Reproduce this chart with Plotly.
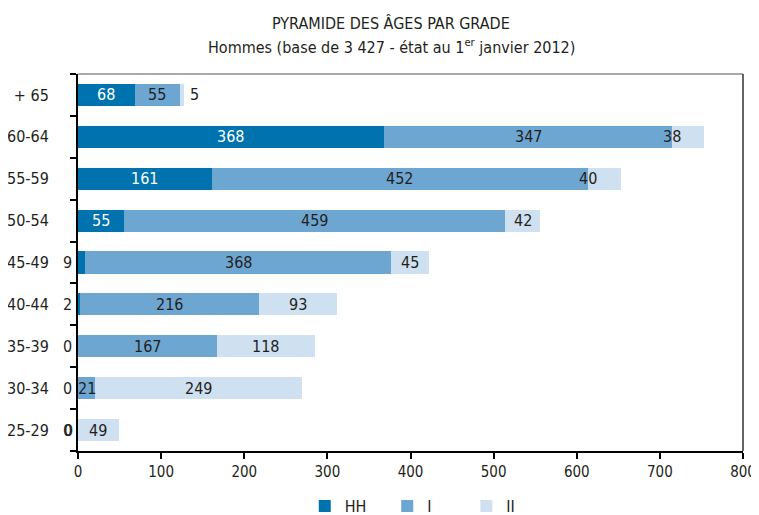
import plotly.graph_objects as go

categories = ["25-29", "30-34", "35-39", "40-44", "45-49", "50-54", "55-59", "60-64", "+ 65"]
hh = [0, 0, 0, 2, 9, 55, 161, 368, 68]
grade_i = [0, 21, 167, 216, 368, 459, 452, 347, 55]
grade_ii = [49, 249, 118, 93, 45, 42, 40, 38, 5]
x_ticks = [0, 100, 200, 300, 400, 500, 600, 700, 800]

C_HH = "#0072AE"
C_I = "#6EA6D2"
C_II = "#CFE0F0"
TXT = "#231F20"
FONT = "DejaVu Sans Condensed, DejaVu Sans, sans-serif"

fig = go.Figure()
for name, vals, col, lg in [("HH", hh, C_HH, "legend"), ("I", grade_i, C_I, "legend2"),
                            ("II", grade_ii, C_II, "legend3")]:
    fig.add_trace(go.Bar(y=categories, x=vals, name=name, orientation="h", legend=lg,
                         showlegend=True,
                         marker=dict(color=col, line=dict(width=0)), width=0.53,
                         hoverinfo="x+name"))

ann = []
for k, cat in enumerate(categories):
    a, b, c = hh[k], grade_i[k], grade_ii[k]
    # HH
    if a >= 30:
        ann.append(dict(x=a / 2, y=cat, text=str(a), font=dict(color="white")))
    else:
        ann.append(dict(x=0, y=cat, text=str(a), xanchor="right", xshift=-4))
    # I
    if b == 0:
        ann.append(dict(x=0, y=cat, text=str(b), xanchor="right", xshift=-3))
    else:
        ann.append(dict(x=a + b / 2, y=cat, text=str(b)))
    # II
    if c >= 41:
        ann.append(dict(x=a + b + c / 2, y=cat, text=str(c)))
    elif c >= 10:
        ann.append(dict(x=a + b, y=cat, text=str(c)))
    else:
        ann.append(dict(x=a + b + c, y=cat, text=str(c), xanchor="left", xshift=4))

for d in ann:
    d.setdefault("xanchor", "center")
    f = dict(family=FONT, size=16, color=TXT)
    f.update(d.get("font", {}))
    d["font"] = f
    d.update(showarrow=False, xref="x", yref="y", yanchor="middle")

# title lines
ann.append(dict(text="PYRAMIDE DES ÂGES PAR GRADE", x=0.471, y=1.135, xref="paper", yref="paper",
                xanchor="center", yanchor="middle", showarrow=False,
                font=dict(family=FONT, size=16, color=TXT)))
ann.append(dict(text="Hommes (base de 3 427 - état au 1<sup>er</sup> janvier 2012)", x=0.471, y=1.074,
                xref="paper", yref="paper", xanchor="center", yanchor="middle", showarrow=False,
                font=dict(family=FONT, size=16, color=TXT)))
fig.update_layout(annotations=ann)

leg_common = dict(orientation="h", xanchor="left", xref="paper", y=-0.146, yanchor="middle",
                  yref="paper", font=dict(size=16), itemwidth=30, bgcolor="rgba(0,0,0,0)",
                  visible=True)

fig.update_layout(
    width=751, height=507,
    showlegend=True,
    margin=dict(l=70, r=16, t=66, b=64, autoexpand=False),
    barmode="stack",
    plot_bgcolor="white", paper_bgcolor="white",
    font=dict(family=FONT, size=16, color=TXT),
    xaxis=dict(range=[0, 800], tickvals=x_ticks, showgrid=False, zeroline=False,
               showline=True, linecolor="black", linewidth=2,
               ticks="outside", ticklen=6, tickwidth=2, tickcolor="black",
               tickfont=dict(size=15), automargin=False),
    yaxis=dict(categoryorder="array", categoryarray=categories,
               showgrid=False, zeroline=False,
               showline=True, linecolor="black", linewidth=2,
               ticks="outside", tickson="boundaries", ticklen=6, tickwidth=2, tickcolor="black",
               ticklabelstandoff=24, tickfont=dict(size=16), automargin=False),
    legend=dict(x=0.341, **leg_common),
    legend2=dict(x=0.465, **leg_common),
    legend3=dict(x=0.584, **leg_common),
    shapes=[dict(type="line", xref="paper", yref="paper", x0=0, x1=1, y0=1, y1=1,
                 line=dict(color="#555555", width=1)),
            dict(type="line", xref="paper", yref="paper", x0=1, x1=1, y0=0, y1=1,
                 line=dict(color="#333333", width=1.5))],
)

fig.write_html("out.html")
